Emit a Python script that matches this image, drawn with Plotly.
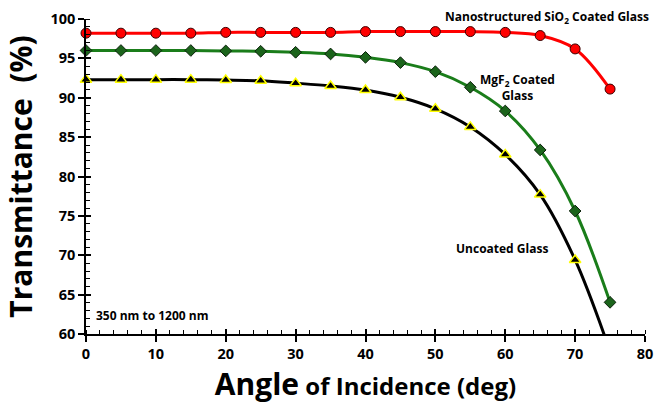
import plotly.graph_objects as go

angles = [0, 5, 10, 15, 20, 25, 30, 35, 40, 45, 50, 55, 60, 65, 70, 75]
sio2 = [98.2, 98.2, 98.2, 98.2, 98.3, 98.3, 98.3, 98.3, 98.4, 98.4, 98.4, 98.4, 98.3, 97.9, 96.2, 91.1]
mgf2 = [96.0, 96.0, 96.0, 96.0, 95.95, 95.9, 95.77, 95.56, 95.13, 94.46, 93.31, 91.33, 88.32, 83.37, 75.62, 64.02]
uncoated_angles = [0, 5, 10, 15, 20, 25, 30, 35, 40, 45, 50, 55, 60, 65, 70]
uncoated = [92.3, 92.3, 92.3, 92.3, 92.25, 92.15, 91.85, 91.5, 90.98, 90.06, 88.6, 86.3, 82.8, 77.7, 69.4]
# fitted curve continues past the last measured point
uncoated_curve_angles = uncoated_angles + [75]
uncoated_curve = uncoated + [57.8]

FONT = "Open Sans"
fig = go.Figure()

fig.add_trace(go.Scatter(x=angles, y=sio2, mode="lines", line=dict(color="#ff0000", width=3, shape="spline"), hoverinfo="skip"))
fig.add_trace(go.Scatter(x=angles, y=mgf2, mode="lines", line=dict(color="#1a7d1a", width=3, shape="spline"), hoverinfo="skip"))
fig.add_trace(go.Scatter(x=uncoated_curve_angles, y=uncoated_curve, mode="lines", line=dict(color="#000000", width=3, shape="spline"), hoverinfo="skip"))

fig.add_trace(go.Scatter(x=angles, y=sio2, mode="markers", cliponaxis=False,
                         marker=dict(symbol="circle", size=10, color="#ff0000", line=dict(color="#3a0000", width=1))))
fig.add_trace(go.Scatter(x=angles, y=mgf2, mode="markers", cliponaxis=False,
                         marker=dict(symbol="diamond", size=9, color="#1b641b", line=dict(color="#0a200a", width=1))))
fig.add_trace(go.Scatter(x=uncoated_angles, y=uncoated, mode="markers", cliponaxis=False,
                         marker=dict(symbol="triangle-up", size=10, color="#000000", line=dict(color="#ffff00", width=1.5))))

tickfont = dict(family=FONT, size=14.5, color="black", weight="bold")
fig.update_layout(
    width=654, height=412,
    margin=dict(l=86, r=9, t=19, b=78),
    paper_bgcolor="white", plot_bgcolor="white",
    showlegend=False,
    font=dict(family=FONT, color="#000000"),
    xaxis=dict(range=[0, 80], dtick=10, tick0=0, showgrid=False, zeroline=False, automargin=False,
               showline=True, linecolor="black", linewidth=1.5,
               ticks="outside", ticklen=6, tickwidth=1.5, tickcolor="black",
               tickfont=tickfont,
               minor=dict(dtick=2, ticks="inside", ticklen=4, tickwidth=1, tickcolor="black", showgrid=False),
               title=dict(text="<span style='font-size:30px'>Angle</span> of Incidence (deg)",
                          font=dict(family=FONT, size=24, color="black", weight="bold"), standoff=8)),
    yaxis=dict(range=[60, 100], dtick=5, tick0=60, showgrid=False, zeroline=False, automargin=False,
               showline=True, linecolor="black", linewidth=1.5,
               ticks="outside", ticklen=6, tickwidth=1.5, tickcolor="black",
               tickfont=tickfont,
               minor=dict(dtick=1, ticks="inside", ticklen=4, tickwidth=1, tickcolor="black", showgrid=False),
               title=dict(text="Transmittance\u00a0 (%)",
                          font=dict(family=FONT, size=30, color="black", weight="bold"), standoff=10)),
    xaxis2=dict(overlaying="x", matches="x", range=[0, 80], dtick=10, tick0=0, showgrid=False, zeroline=False,
                automargin=False, showticklabels=False, ticks="inside", ticklen=5, tickwidth=1.5,
                tickcolor="black", showline=False),
    yaxis2=dict(overlaying="y", matches="y", range=[60, 100], dtick=5, tick0=60, showgrid=False, zeroline=False,
                automargin=False, showticklabels=False, ticks="inside", ticklen=5, tickwidth=1.5,
                tickcolor="black", showline=False),
)
fig.add_trace(go.Scatter(x=[0], y=[60], xaxis="x2", yaxis="y2", mode="markers",
                         marker=dict(size=1, opacity=0), showlegend=False, hoverinfo="skip"))

ann_font = dict(family=FONT, size=12, color="black", weight="bold")
fig.add_annotation(text="Nanostructured SiO<sub>2</sub> Coated Glass", xref="paper", yref="paper",
                   x=1.01, y=1.006, xanchor="right", yanchor="middle", showarrow=False, font=ann_font)
fig.add_annotation(text="MgF<sub>2</sub> Coated<br>Glass", xref="x", yref="y",
                   x=61.7, y=91.3, xanchor="center", yanchor="middle", showarrow=False, font=ann_font)
fig.add_annotation(text="Uncoated Glass", xref="x", yref="y",
                   x=59.5, y=70.8, xanchor="center", yanchor="middle", showarrow=False, font=ann_font)
fig.add_annotation(text="350 nm to 1200 nm", xref="x", yref="y",
                   x=1.1, y=62.4, xanchor="left", yanchor="middle", showarrow=False, font=ann_font)

fig.write_html("out.html")
